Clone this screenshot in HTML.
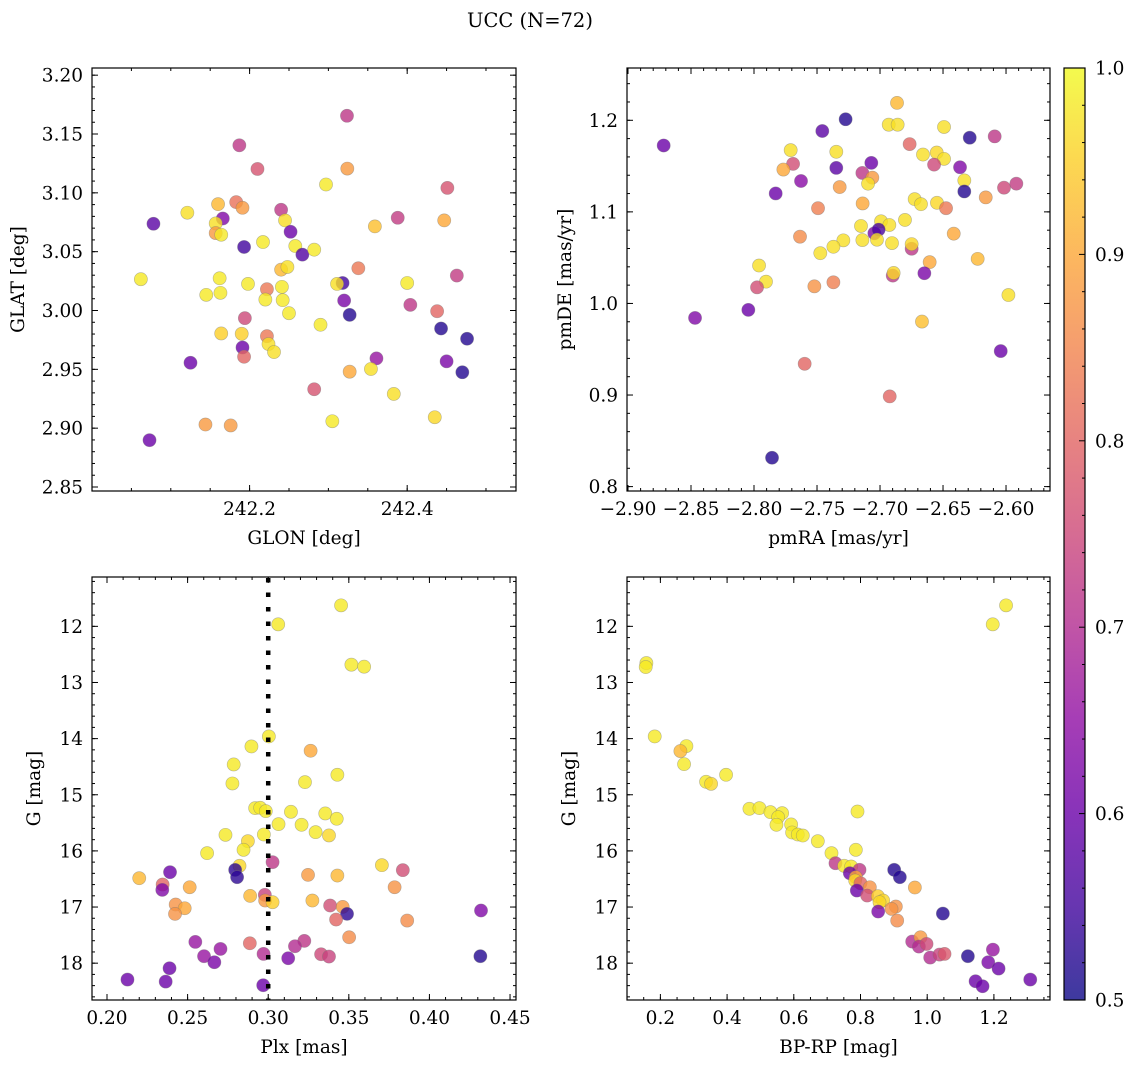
<!DOCTYPE html>
<html><head><meta charset="utf-8">
<style>
html,body{margin:0;padding:0;background:#fff;}
svg{display:block;font-family:"DejaVu Serif","Liberation Serif",serif;}
</style></head>
<body>
<svg id="fig" width="1136" height="1067" viewBox="0 0 1136 1067" xmlns="http://www.w3.org/2000/svg">
<defs>
<linearGradient id="cmap" x1="0" y1="1" x2="0" y2="0"></linearGradient>
</defs>
<text x="530" y="27" font-size="19.5" text-anchor="middle">UCC (N=72)</text>
</svg>
<script>
// ---- Panel 1: GLON / GLAT ----
const glon = [242.3236,242.187,242.210,242.324,242.297,242.451,242.160,242.183,242.191,242.121,242.240,242.078,242.166,242.157,242.245,242.359,242.388,242.447,242.252,242.157,242.164,242.193,242.217,242.258,242.267,242.282,242.240,242.248,242.338,242.062,242.162,242.198,242.318,242.311,242.400,242.463,242.145,242.163,242.222,242.241,242.220,242.242,242.320,242.404,242.438,242.250,242.327,242.194,242.290,242.443,242.476,242.164,242.190,242.222,242.224,242.191,242.193,242.231,242.125,242.361,242.450,242.327,242.354,242.470,242.282,242.383,242.435,242.144,242.176,242.305,242.073];
const glat = [3.1655,3.1404,3.1203,3.1206,3.1071,3.1042,3.0904,3.0921,3.0873,3.0831,3.0856,3.0737,3.0782,3.0740,3.0766,3.0715,3.0788,3.0766,3.0669,3.0658,3.0644,3.0540,3.0582,3.0548,3.0475,3.0517,3.0347,3.0370,3.0359,3.0266,3.0274,3.0226,3.0234,3.0226,3.0234,3.0297,3.0133,3.0150,3.0181,3.0201,3.0093,3.0088,3.0085,3.0048,2.9994,2.9977,2.9963,2.9935,2.9879,2.9847,2.9760,2.9805,2.9802,2.9782,2.9715,2.9686,2.9607,2.9647,2.9556,2.9593,2.9568,2.9480,2.9503,2.9475,2.9331,2.9291,2.9093,2.9031,2.9023,2.9059,2.8898];
const prob1 = [0.72,0.72,0.77,0.88,0.98,0.77,0.92,0.82,0.88,0.97,0.72,0.58,0.63,0.97,0.97,0.93,0.73,0.9,0.6,0.88,0.98,0.55,0.98,0.98,0.57,0.98,0.92,0.97,0.83,0.98,0.98,0.98,0.55,0.97,0.98,0.73,0.98,0.98,0.83,0.98,0.98,0.98,0.62,0.72,0.8,0.98,0.52,0.75,0.98,0.52,0.52,0.95,0.95,0.83,0.97,0.6,0.8,0.97,0.6,0.66,0.62,0.9,0.97,0.52,0.77,0.97,0.96,0.88,0.88,0.98,0.6];
// ---- Panel 2: pmRA / pmDE ----
const pmra = [-2.8717,-2.7273,-2.7458,-2.6865,-2.6931,-2.6860,-2.6492,-2.6288,-2.6090,-2.6765,-2.7709,-2.7347,-2.7690,-2.7767,-2.7347,-2.7627,-2.7828,-2.7069,-2.7140,-2.7061,-2.7095,-2.7320,-2.6659,-2.6550,-2.6492,-2.6571,-2.6365,-2.6331,-2.6331,-2.6161,-2.6016,-2.5918,-2.7492,-2.7138,-2.6725,-2.6675,-2.6548,-2.6476,-2.7635,-2.7151,-2.6992,-2.6926,-2.6802,-2.7045,-2.7011,-2.7140,-2.7024,-2.6905,-2.7291,-2.7370,-2.7474,-2.6749,-2.6749,-2.6415,-2.6225,-2.7960,-2.7905,-2.7976,-2.7521,-2.7370,-2.6899,-2.6892,-2.6606,-2.6648,-2.5981,-2.8045,-2.8468,-2.6667,-2.6042,-2.7598,-2.6923,-2.7857];
const pmde = [1.1725,1.2011,1.1883,1.2190,1.1952,1.1952,1.1927,1.1810,1.1824,1.1740,1.1674,1.1656,1.1524,1.1462,1.1480,1.1337,1.1201,1.1535,1.1425,1.1374,1.1308,1.1271,1.1626,1.1648,1.1579,1.1516,1.1487,1.1344,1.1223,1.1158,1.1264,1.1308,1.1040,1.1092,1.1139,1.1084,1.1099,1.1040,1.0729,1.0846,1.0897,1.0857,1.0912,1.0766,1.0806,1.0692,1.0696,1.0659,1.0689,1.0619,1.0549,1.0597,1.0648,1.0762,1.0487,1.0414,1.0238,1.0176,1.0187,1.0231,1.0304,1.0333,1.0451,1.0330,1.0092,0.9930,0.9842,0.9802,0.9480,0.9341,0.8985,0.8315];
const prob2 = [0.6,0.52,0.58,0.92,0.97,0.97,0.97,0.52,0.72,0.8,0.97,0.97,0.76,0.9,0.58,0.64,0.6,0.6,0.72,0.88,0.97,0.88,0.97,0.96,0.97,0.75,0.63,0.97,0.52,0.88,0.75,0.73,0.84,0.9,0.97,0.97,0.96,0.83,0.86,0.97,0.97,0.97,0.97,0.62,0.56,0.97,0.97,0.97,0.97,0.97,0.97,0.72,0.96,0.9,0.92,0.97,0.97,0.76,0.87,0.84,0.72,0.96,0.9,0.62,0.97,0.6,0.63,0.93,0.6,0.8,0.8,0.52];
// ---- Panel 3: Plx / G ----
const plx = [0.3452,0.3062,0.3516,0.3595,0.3004,0.2896,0.3263,0.2786,0.3429,0.2778,0.3228,0.2919,0.2950,0.2985,0.3141,0.3354,0.3425,0.3064,0.3207,0.3294,0.3377,0.2973,0.2735,0.2874,0.2847,0.2621,0.3027,0.2822,0.3705,0.3835,0.2795,0.2807,0.2391,0.2200,0.3247,0.3429,0.2345,0.2343,0.2513,0.3784,0.2888,0.2979,0.2981,0.3027,0.3274,0.2426,0.2482,0.2422,0.3384,0.3462,0.3489,0.3421,0.3862,0.4320,0.3502,0.2548,0.2886,0.3224,0.2704,0.3166,0.2602,0.2971,0.3124,0.3328,0.3377,0.2666,0.4316,0.2388,0.2127,0.2364,0.2969];
const gmag3 = [11.626,11.964,12.683,12.719,13.961,14.139,14.216,14.460,14.644,14.799,14.775,15.238,15.232,15.292,15.304,15.333,15.428,15.523,15.535,15.666,15.725,15.708,15.714,15.827,15.981,16.040,16.201,16.266,16.254,16.343,16.338,16.468,16.379,16.486,16.427,16.439,16.599,16.694,16.647,16.647,16.801,16.783,16.884,16.914,16.884,16.955,17.021,17.122,16.973,16.997,17.122,17.223,17.241,17.062,17.538,17.621,17.645,17.603,17.746,17.698,17.876,17.835,17.912,17.841,17.882,17.983,17.876,18.090,18.292,18.328,18.393];
const prob3 = [0.98,0.98,0.98,0.98,0.98,0.98,0.9,0.98,0.98,0.98,0.98,0.98,0.98,0.98,0.98,0.98,0.98,0.98,0.98,0.98,0.96,0.98,0.98,0.96,0.98,0.98,0.72,0.96,0.96,0.76,0.53,0.53,0.6,0.92,0.88,0.92,0.8,0.63,0.9,0.87,0.92,0.74,0.88,0.95,0.92,0.87,0.9,0.87,0.76,0.88,0.53,0.8,0.86,0.63,0.86,0.66,0.8,0.72,0.66,0.7,0.66,0.7,0.62,0.75,0.74,0.62,0.52,0.6,0.6,0.6,0.6];
const plxLine = 0.30;
// ---- Panel 4: BP-RP / G ----
const bprp = [1.2365,1.1965,0.158,0.156,0.183,0.278,0.260,0.271,0.397,0.337,0.352,0.467,0.497,0.530,0.565,0.553,0.548,0.592,0.791,0.595,0.612,0.627,0.672,0.786,0.713,0.725,0.751,0.772,0.797,0.901,0.918,0.768,0.786,0.784,0.963,0.800,0.828,0.789,0.820,0.852,0.868,0.857,0.906,0.893,0.853,1.047,0.910,0.955,0.980,0.975,0.998,1.009,1.037,1.052,1.122,1.197,1.183,1.214,1.145,1.166,1.309];
const gmag4 = [11.626,11.964,12.654,12.725,13.961,14.133,14.222,14.454,14.644,14.769,14.805,15.250,15.238,15.310,15.327,15.399,15.535,15.529,15.298,15.672,15.708,15.726,15.827,15.981,16.040,16.219,16.266,16.278,16.337,16.337,16.468,16.397,16.468,16.528,16.652,16.575,16.647,16.706,16.795,16.807,16.884,16.914,16.991,17.033,17.080,17.116,17.241,17.615,17.538,17.704,17.657,17.900,17.847,17.835,17.876,17.758,17.983,18.096,18.322,18.411,18.292];
const prob4 = [0.98,0.98,0.98,0.98,0.98,0.98,0.92,0.98,0.98,0.98,0.96,0.98,0.98,0.98,0.98,0.98,0.98,0.98,0.98,0.98,0.98,0.98,0.98,0.98,0.98,0.72,0.98,0.98,0.72,0.52,0.52,0.6,0.9,0.96,0.9,0.8,0.87,0.6,0.76,0.95,0.96,0.96,0.87,0.87,0.62,0.52,0.86,0.7,0.88,0.7,0.75,0.7,0.74,0.78,0.52,0.66,0.62,0.6,0.6,0.6,0.6];
// colorbar ticks
const cbTicks = [0.5,0.6,0.7,0.8,0.9,1.0];

const NS = "http://www.w3.org/2000/svg";
const fig = document.getElementById('fig');
const TICKFS = 18.5, LABFS = 18.5;
const stops = ["#0d0887","#41049d","#6a00a8","#8f0da4","#b12a90","#cc4778","#e16462","#f2844b","#fca636","#fcce25","#f0f921"];
function hex(h){return [1,3,5].map(i=>parseInt(h.substr(i,2),16));}
function plasma(t){t=Math.max(0,Math.min(1,t));const f=t*10,i=Math.min(9,Math.floor(f)),r=f-i;const a=hex(stops[i]),b=hex(stops[i+1]);return 'rgb('+a.map((v,k)=>Math.round(v+(b[k]-v)*r)).join(',')+')';}
function pcol(p){return plasma((p-0.5)/0.5);}
function mk(tag,attrs,parent){const e=document.createElementNS(NS,tag);for(const k in attrs)e.setAttribute(k,attrs[k]);(parent||fig).appendChild(e);return e;}

function panel(o){
  const g=mk('g',{});
  
  
  const sx=v=>o.x0+(v-o.xd[0])/(o.xd[1]-o.xd[0])*(o.x1-o.x0);
  const sy=v=>o.y1-(v-o.yd[0])/(o.yd[1]-o.yd[0])*(o.y1-o.y0);
  const pg=mk('g',{},g);
  
  
  for(let i=0;i<o.xs.length;i++){
    const c=mk('circle',{cx:sx(o.xs[i]),cy:sy(o.ys[i]),r:6.6,fill:pcol(o.ps[i]),'fill-opacity':0.8,stroke:'#777','stroke-opacity':0.5,'stroke-width':0.6},pg);
    
    
  }
  if(o.vline!==undefined){
    const l=mk('line',{x1:sx(o.vline),x2:sx(o.vline),y1:o.y0+1,y2:o.y1,stroke:'#000','stroke-width':4.5,'stroke-dasharray':'4.5 10'},g);
    
    
  }
  const fr=mk('rect',{x:o.x0,y:o.y0,width:o.x1-o.x0,height:o.y1-o.y0,fill:'none',stroke:'#000','stroke-width':1.2},g);
  
  
  const tg=mk('g',{stroke:'#000','stroke-width':1},g);
  const eps=1e-9;
  function ticksX(step,len,labels){
    const s=Math.ceil(o.xd[0]/step-eps);
    for(let k=s;k*step<=o.xd[1]+eps;k++){const v=k*step,x=sx(v);
      if(x<o.x0+2 && o.skipEdgeX) continue;
      mk('line',{x1:x,x2:x,y1:o.y1,y2:o.y1-len},tg);mk('line',{x1:x,x2:x,y1:o.y0,y2:o.y0+len},tg);
      if(labels){const t=mk('text',{x:x,y:o.y1+24,'font-size':TICKFS,'text-anchor':'middle',stroke:'none',fill:'#000'},g);t.textContent=labels(v);
        
        }
    }}
  function ticksY(step,len,labels){
    const lo=Math.min(o.yd[0],o.yd[1]),hi=Math.max(o.yd[0],o.yd[1]);
    const s=Math.ceil(lo/step-eps);
    for(let k=s;k*step<=hi+eps;k++){const v=k*step,y=sy(v);
      mk('line',{x1:o.x0,x2:o.x0+len,y1:y,y2:y},tg);mk('line',{x1:o.x1,x2:o.x1-len,y1:y,y2:y},tg);
      if(labels){const t=mk('text',{x:o.x0-9,y:y+6.5,'font-size':TICKFS,'text-anchor':'end',stroke:'none',fill:'#000'},g);t.textContent=labels(v);
        
        }
    }}
  ticksX(o.xminor,3,null);ticksX(o.xmajor,6,o.xfmt);
  ticksY(o.yminor,3,null);ticksY(o.ymajor,6,o.yfmt);
  const xl=mk('text',{x:(o.x0+o.x1)/2,y:o.y1+53,'font-size':LABFS,'text-anchor':'middle'},g);xl.textContent=o.xlabel;
  
  
  const yx=o.x0-(o.ylabelOff||64),yc=(o.y0+o.y1)/2;
  const yl=mk('text',{x:yx,y:yc,'font-size':LABFS,'text-anchor':'middle',transform:'rotate(-90 '+yx+' '+yc+')'},g);yl.textContent=o.ylabel;
  
  
}
const minus=s=>s.replace('-','\u2212');
panel({name:'glon-glat-panel',x0:92,x1:516,y0:68,y1:491,xd:[242.0,242.5381],yd:[2.8466,3.2061],xs:glon,ys:glat,ps:prob1,skipEdgeX:true,
  xmajor:0.2,xminor:0.05,ymajor:0.05,yminor:0.01,xfmt:v=>v.toFixed(1),yfmt:v=>v.toFixed(2),xlabel:'GLON [deg]',ylabel:'GLAT [deg]',ylabelOff:68});
panel({name:'pm-panel',x0:627,x1:1050,y0:68,y1:491,xd:[-2.9008,-2.5651],yd:[0.7952,1.2571],xs:pmra,ys:pmde,ps:prob2,
  xmajor:0.05,xminor:0.01,ymajor:0.1,yminor:0.02,xfmt:v=>minus(v.toFixed(2)),yfmt:v=>v.toFixed(1),xlabel:'pmRA [mas/yr]',ylabel:'pmDE [mas/yr]',ylabelOff:56});
panel({name:'plx-g-panel',x0:92,x1:516,y0:577,y1:1000,xd:[0.1907,0.4537],yd:[18.656,11.121],xs:plx,ys:gmag3,ps:prob3,vline:plxLine,
  xmajor:0.05,xminor:0.01,ymajor:1,yminor:0.2,xfmt:v=>v.toFixed(2),yfmt:v=>v.toFixed(0),xlabel:'Plx [mas]',ylabel:'G [mag]',ylabelOff:52});
panel({name:'cmd-panel',x0:627,x1:1050,y0:577,y1:1000,xd:[0.0999,1.3682],yd:[18.656,11.121],xs:bprp,ys:gmag4,ps:prob4,
  xmajor:0.2,xminor:0.05,ymajor:1,yminor:0.2,xfmt:v=>v.toFixed(1),yfmt:v=>v.toFixed(0),xlabel:'BP-RP [mag]',ylabel:'G [mag]',ylabelOff:52});

const grad=document.getElementById('cmap');
for(let i=0;i<=10;i++){mk('stop',{offset:i/10,'stop-color':stops[i]},grad);}
const cb=mk('g',{});


const cx0=1064,cx1=1085,cy0=68,cy1=1000;
const cr=mk('rect',{x:cx0,y:cy0,width:cx1-cx0,height:cy1-cy0,fill:'url(#cmap)','fill-opacity':0.8},cb);


mk('rect',{x:cx0,y:cy0,width:cx1-cx0,height:cy1-cy0,fill:'none',stroke:'#000','stroke-width':1.2},cb);
const cys=v=>cy1-(v-0.5)/0.5*(cy1-cy0);
for(let k=25;k<=50;k++){const v=k/50,y=cys(v);mk('line',{x1:cx1,x2:cx1-(k%5===0?6:3),y1:y,y2:y,stroke:'#000','stroke-width':1},cb);}
cbTicks.forEach(v=>{const t=mk('text',{x:1095,y:cys(v)+6.5,'font-size':TICKFS},cb);t.textContent=v.toFixed(1);
  
  });
</script>
</body></html>
